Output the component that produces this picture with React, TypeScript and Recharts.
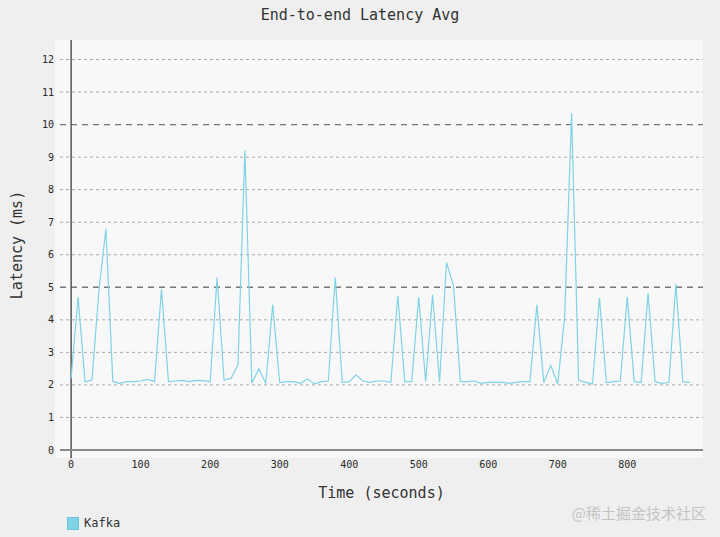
import { LineChart, Line, XAxis, YAxis, ReferenceLine } from 'recharts'

const times = [
  0, 10, 20, 30, 40, 50, 60, 70, 80, 90,
  100, 110, 120, 130, 140, 150, 160, 170, 180, 190,
  200, 210, 220, 230, 240, 250, 260, 270, 280, 290,
  300, 310, 320, 330, 340, 350, 360, 370, 380, 390,
  400, 410, 420, 430, 440, 450, 460, 470, 480, 490,
  500, 510, 520, 530, 540, 550, 560, 570, 580, 590,
  600, 610, 620, 630, 640, 650, 660, 670, 680, 690,
  700, 710, 720, 730, 740, 750, 760, 770, 780, 790,
  800, 810, 820, 830, 840, 850, 860, 870, 880, 890,
]

const kafka = [
  2.2, 4.7, 2.1, 2.15, 4.9, 6.8, 2.1, 2.05, 2.1, 2.1,
  2.12, 2.17, 2.1, 4.95, 2.1, 2.12, 2.14, 2.1, 2.14, 2.13,
  2.1, 5.3, 2.15, 2.2, 2.62, 9.2, 2.05, 2.5, 2.05, 4.46,
  2.07, 2.1, 2.1, 2.05, 2.18, 2.03, 2.1, 2.12, 5.3, 2.08,
  2.1, 2.3, 2.12, 2.08, 2.12, 2.12, 2.08, 4.74, 2.1, 2.1,
  4.7, 2.1, 4.77, 2.08, 5.76, 5.05, 2.1, 2.1, 2.12, 2.05,
  2.08, 2.08, 2.08, 2.05, 2.08, 2.1, 2.1, 4.46, 2.07, 2.6,
  2.03, 4.1, 10.35, 2.14, 2.08, 2.03, 4.67, 2.07, 2.1, 2.12,
  4.7, 2.1, 2.07, 4.82, 2.1, 2.05, 2.08, 5.1, 2.1, 2.08,
]

const xTicks = [0, 100, 200, 300, 400, 500, 600, 700, 800]
const yTicks = [0, 1, 2, 3, 4, 5, 6, 7, 8, 9, 10, 11, 12]
const majorTicks = [5, 10]

const data = times.map((t, i) => ({ t, kafka: kafka[i] }))

const mono = "'DejaVu Sans Mono', monospace"
const lineColor = '#7fd3e6'

export default function App() {
  return (
    <div style={{ position: 'absolute', left: 0, top: 0, width: 720, height: 537, background: '#efefef', fontFamily: mono }}>
      <div style={{ position: 'absolute', left: 55, top: 40, width: 648, height: 418, background: '#f8f8f8' }} />
      <div style={{ position: 'absolute', top: 6, width: 720, textAlign: 'center', fontSize: 15, color: '#333' }}>
        End-to-end Latency Avg
      </div>
      <div style={{ position: 'absolute', left: 0, top: 0 }}>
        <LineChart width={720} height={537} data={data} margin={{ top: 40, right: 17, bottom: 57, left: 0 }}>
          {yTicks.filter((v) => v > 0).map((v) => {
            const major = majorTicks.includes(v)
            return (
              <ReferenceLine
                key={v}
                y={v}
                stroke={major ? '#777' : '#aaa'}
                strokeWidth={major ? 1.4 : 1}
                strokeDasharray={major ? '6 5' : '3 3'}
              />
            )
          })}
          <XAxis
            type='number'
            dataKey='t'
            domain={[-16, 909]}
            ticks={xTicks}
            allowDataOverflow
            height={30}
            tickLine={false}
            tickSize={0}
            tickMargin={11}
            axisLine={{ stroke: '#888', strokeWidth: 2 }}
            tick={{ fontSize: 10, fill: '#2a2a2a', fontFamily: mono }}
          />
          <YAxis
            type='number'
            domain={[0, 12.6]}
            ticks={yTicks}
            allowDataOverflow
            width={60}
            axisLine={false}
            tickLine={false}
            tickSize={0}
            tickMargin={6}
            tick={{ fontSize: 10, fill: '#2a2a2a', fontFamily: mono }}
          />
          <ReferenceLine
            segment={[{ x: 0, y: -0.25 }, { x: 0, y: 12.6 }]}
            stroke='#555'
            strokeWidth={1.5}
            ifOverflow='visible'
          />
          <Line
            type='linear'
            dataKey='kafka'
            stroke={lineColor}
            strokeWidth={1.2}
            dot={false}
            isAnimationActive={false}
          />
        </LineChart>
      </div>
      <div
        style={{
          position: 'absolute',
          left: 17,
          top: 245,
          transform: 'translate(-50%, -50%) rotate(-90deg)',
          fontSize: 15,
          color: '#333',
          whiteSpace: 'nowrap',
        }}
      >
        Latency (ms)
      </div>
      <div style={{ position: 'absolute', left: 60, width: 643, top: 484, textAlign: 'center', fontSize: 15, color: '#333' }}>
        Time (seconds)
      </div>
      <div style={{ position: 'absolute', left: 67, top: 516, display: 'flex', alignItems: 'center', fontSize: 12, color: '#333' }}>
        <span style={{ display: 'inline-block', width: 10, height: 11, background: lineColor, border: '1px solid #6cc3d8', marginRight: 5 }} />
        Kafka
      </div>
      <div
        style={{
          position: 'absolute',
          right: 14,
          top: 502,
          fontSize: 15,
          color: '#c4c4c4',
          fontFamily: "'Noto Sans CJK SC', sans-serif",
        }}
      >
        @稀土掘金技术社区
      </div>
    </div>
  )
}
